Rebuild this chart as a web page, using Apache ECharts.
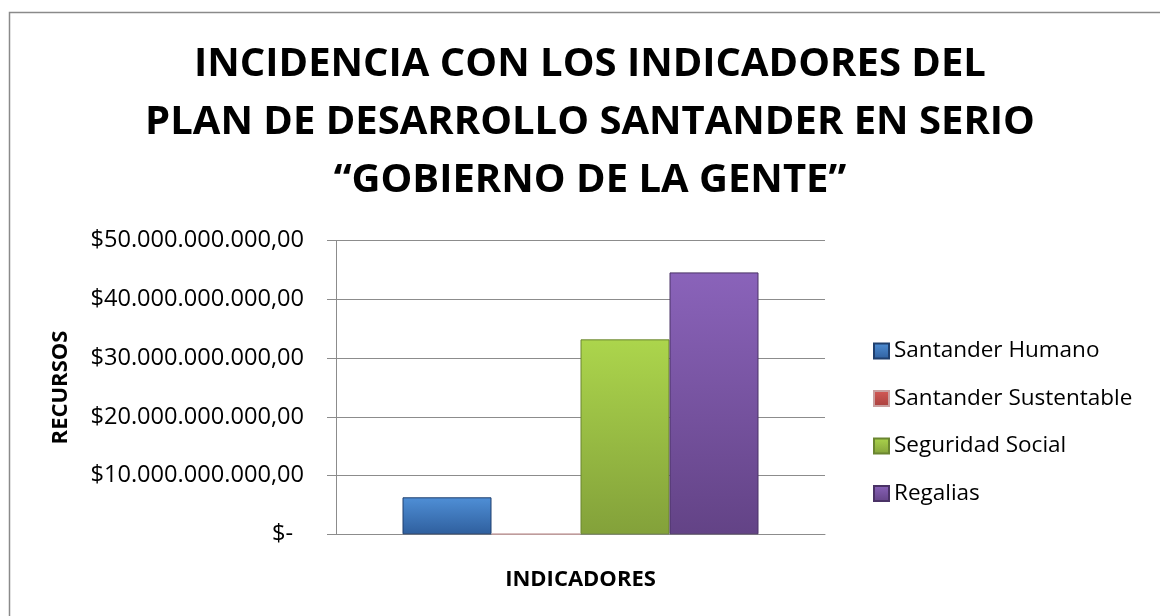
<!DOCTYPE html>
<html>
<head>
<meta charset="utf-8">
<script src="https://cdn.jsdelivr.net/npm/echarts@6/dist/echarts.min.js"></script>
<style>
  html, body { margin: 0; padding: 0; background: #fff; }
  #main { width: 1160px; height: 616px; }
</style>
</head>
<body>
<div id="main"></div>
<script>
// data
const categories = [''];
const seriesNames = ['Santander Humano', 'Santander Sustentable', 'Seguridad Social', 'Regalias'];
const humano = [6300000000];
const sustentable = [80000000];
const seguridad = [33200000000];
const regalias = [44600000000];
const yTicks = [0, 10000000000, 20000000000, 30000000000, 40000000000, 50000000000];

const FONT = '"Open Sans", "DejaVu Sans", sans-serif';

function grad(top, bottom) {
  return new echarts.graphic.LinearGradient(0, 0, 0, 1, [
    { offset: 0, color: top },
    { offset: 1, color: bottom }
  ]);
}

function money(v) {
  if (v === 0) return '{z|$-}';
  const s = String(Math.round(v)).replace(/\B(?=(\d{3})+(?!\d))/g, '.');
  return '$' + s + ',00';
}

var chartDom = document.getElementById('main');
var myChart = echarts.init(chartDom);

const barStyle = (top, bottom, border) => ({
  color: grad(top, bottom),
  borderColor: border,
  borderWidth: 1
});

const option = {
  backgroundColor: '#ffffff',
  animation: false,
  graphic: [
    {
      type: 'rect',
      shape: { x: 9.5, y: 12.5, width: 1200, height: 700 },
      style: { fill: 'none', stroke: '#8a8a8a', lineWidth: 1.5 },
      silent: true,
      z: -1
    }
  ],
  title: {
    text: 'INCIDENCIA CON LOS INDICADORES DEL\nPLAN DE DESARROLLO SANTANDER EN SERIO\n\u201CGOBIERNO DE LA GENTE\u201D',
    left: 585,
    top: 31,
    textAlign: 'center',
    textStyle: {
      fontFamily: FONT,
      fontWeight: 'bold',
      fontSize: 40,
      lineHeight: 58,
      color: '#000'
    }
  },
  legend: {
    orient: 'vertical',
    left: 868,
    top: 334,
    itemWidth: 15,
    itemHeight: 15,
    itemGap: 23.5,
    icon: 'rect',
    data: seriesNames,
    textStyle: {
      fontFamily: FONT,
      fontSize: 22.5,
      lineHeight: 24,
      color: '#000'
    }
  },
  grid: {
    left: 336,
    right: 335,
    top: 240.7,
    bottom: 81.7,
    containLabel: false
  },
  xAxis: {
    type: 'category',
    data: categories,
    name: 'INDICADORES',
    nameLocation: 'middle',
    nameGap: 34,
    nameTextStyle: {
      fontFamily: FONT,
      fontWeight: 'bold',
      fontSize: 22,
      color: '#000'
    },
    axisLine: { show: true, lineStyle: { color: '#8c8c8c', width: 1 } },
    axisTick: { show: false },
    axisLabel: { show: false }
  },
  yAxis: {
    type: 'value',
    min: yTicks[0],
    max: yTicks[yTicks.length - 1],
    interval: yTicks[1] - yTicks[0],
    name: 'RECURSOS',
    nameLocation: 'middle',
    nameRotate: 90,
    nameGap: 264,
    nameTextStyle: {
      fontFamily: FONT,
      fontWeight: 'bold',
      fontSize: 22,
      color: '#000'
    },
    axisLine: { show: true, lineStyle: { color: '#8c8c8c', width: 1 } },
    axisTick: { show: true, inside: false, length: 9, lineStyle: { color: '#8c8c8c' } },
    splitLine: { show: true, lineStyle: { color: '#8c8c8c', width: 1 } },
    axisLabel: {
      margin: 32,
      fontFamily: FONT,
      fontSize: 23.6,
      color: '#000',
      formatter: money,
      rich: {
        z: { fontFamily: FONT, fontSize: 23.6, color: '#000', padding: [0, 11, 0, 0] }
      }
    }
  },
  series: [
    {
      name: seriesNames[0],
      type: 'bar',
      data: humano,
      barWidth: 89,
      barGap: '0%',
      itemStyle: barStyle('#4f8fd6', '#2f5f9e', '#1f3f6e')
    },
    {
      name: seriesNames[1],
      type: 'bar',
      data: sustentable,
      barWidth: 89,
      barGap: '0%',
      itemStyle: barStyle('#d45a57', '#a8403d', '#c9a0a0')
    },
    {
      name: seriesNames[2],
      type: 'bar',
      data: seguridad,
      barWidth: 89,
      barGap: '0%',
      itemStyle: barStyle('#acd54c', '#83a13a', '#6a8530')
    },
    {
      name: seriesNames[3],
      type: 'bar',
      data: regalias,
      barWidth: 89,
      barGap: '0%',
      itemStyle: barStyle('#8a63ba', '#634386', '#4a3266')
    }
  ]
};

myChart.setOption(option);
</script>
</body>
</html>
